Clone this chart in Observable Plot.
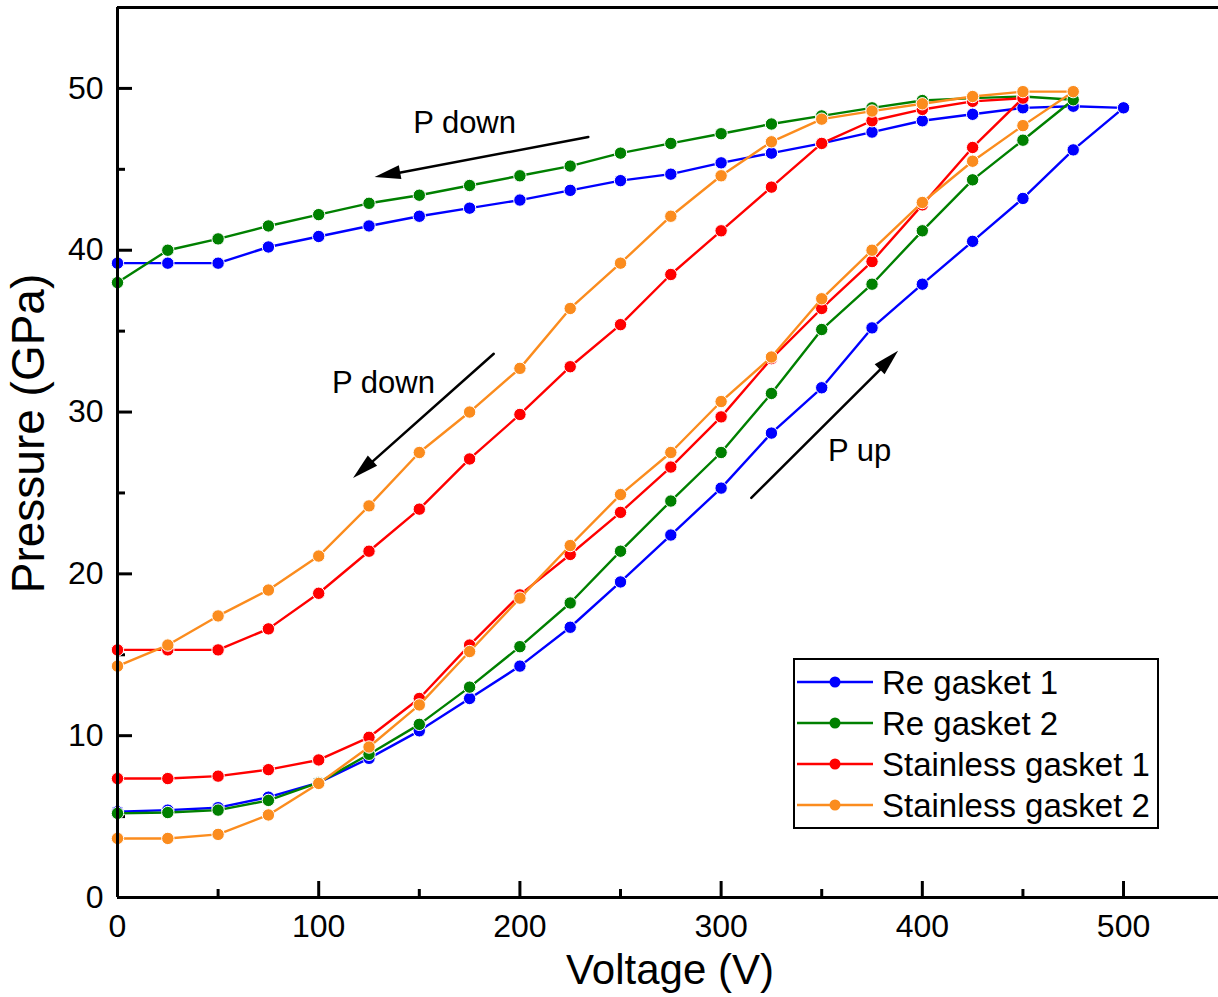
<!DOCTYPE html>
<html><head><meta charset="utf-8">
<script src="https://cdn.jsdelivr.net/npm/d3@7"></script>
<script src="https://cdn.jsdelivr.net/npm/@observablehq/plot@0.6"></script>
<style>
body{margin:0;background:#fff;}
#wrap{position:relative;width:1218px;height:997px;font-family:"Liberation Sans",Arial,sans-serif;}
#legend{position:absolute;left:793px;top:658px;width:362px;height:167px;border:2.5px solid #000;background:#fff;}
</style></head><body><div id="wrap"></div>
<script>
// ---- data ----
const voltage = [0,25,50,75,100,125,150,175,200,225,250,275,300,325,350,375,400,425,450,475,500];

const seriesNames = ["Re gasket 1","Re gasket 2","Stainless gasket 1","Stainless gasket 2"];
const seriesColors = ["#0000ff","#008000","#ff0000","#fb8c1e"];

// pressure on the way up (voltage 0, 25, ... up to the peak)
const re1Up = [5.3,5.4,5.55,6.2,7.1,8.6,10.3,12.3,14.3,16.7,19.5,22.4,25.3,28.7,31.5,35.2,37.9,40.55,43.2,46.2,48.8];
const re2Up = [5.2,5.25,5.4,6.0,7.1,8.85,10.7,13.0,15.5,18.2,21.4,24.5,27.5,31.15,35.1,37.9,41.2,44.35,46.8,49.3];
const ss1Up = [7.35,7.35,7.5,7.9,8.5,9.9,12.3,15.6,18.7,21.2,23.8,26.6,29.7,33.3,36.4,39.3,42.8,46.35,49.4];
const ss2Up = [3.65,3.65,3.9,5.1,7.05,9.3,11.9,15.2,18.5,21.75,24.9,27.5,30.65,33.4,37.0,40.0,42.95,45.5,47.7,49.8];

// pressure on the way down (voltage one step below the peak, down to 0)
const re1Down = [48.9,48.8,48.4,48.0,47.3,46.6,46.0,45.4,44.7,44.3,43.7,43.1,42.6,42.1,41.5,40.85,40.2,39.2,39.2,39.2];
const re2Down = [49.5,49.4,49.25,48.8,48.3,47.8,47.2,46.6,46.0,45.2,44.6,44.0,43.4,42.9,42.2,41.5,40.7,40.0,38.0];
const ss1Down = [49.2,48.7,48.0,46.6,43.9,41.2,38.5,35.4,32.8,29.85,27.1,24.0,21.4,18.8,16.6,15.3,15.3,15.3];
const ss2Down = [49.8,49.5,49.05,48.6,48.1,46.7,44.6,42.1,39.2,36.4,32.7,30.0,27.5,24.2,21.1,19.0,17.4,15.6,14.3];

const xMajor = [0,100,200,300,400,500];
const xMinor = [50,150,250,350,450];
const yMajor = [0,10,20,30,40,50];
const yMinor = [5,15,25,35,45];

// annotations (data units)
const arrowFromV = [234, 187, 315];
const arrowFromP = [47.0, 33.6, 24.7];
const arrowToV = [128, 117.3, 388.2];
const arrowToP = [44.5, 25.9, 33.75];
const noteText = ["P down","P down","P up"];
const noteV = [172.5, 132.2, 368.8];
const noteP = [47.87, 31.77, 27.56];

// ---- build rows ----
const ups = [re1Up, re2Up, ss1Up, ss2Up];
const downs = [re1Down, re2Down, ss1Down, ss2Down];
const rows = [];
seriesNames.forEach((name, s) => {
  const up = ups[s], down = downs[s];
  up.forEach((p, i) => rows.push({series: name, V: voltage[i], P: p}));
  down.forEach((p, j) => rows.push({series: name, V: voltage[up.length - 2 - j], P: p}));
});
const arrows = arrowFromV.map((v, i) => ({x1: v, y1: arrowFromP[i], x2: arrowToV[i], y2: arrowToP[i]}));
const notes = noteText.map((t, i) => ({t, V: noteV[i], P: noteP[i]}));

const W = 1218, H = 997, mL = 117, mR = 0, mT = 7, mB = 100;
const plotW = W - mL - mR, plotH = H - mT - mB;

const arrowHeads = (index, scales) => {
  const ns = "http://www.w3.org/2000/svg";
  const g = document.createElementNS(ns, "g");
  arrows.forEach(a => {
    const x1 = scales.x(a.x1), y1 = scales.y(a.y1), x2 = scales.x(a.x2), y2 = scales.y(a.y2);
    const ang = Math.atan2(y2 - y1, x2 - x1), L = 26, w = 7;
    const bx = x2 - L * Math.cos(ang), by = y2 - L * Math.sin(ang);
    const p = document.createElementNS(ns, "path");
    p.setAttribute("d", `M${x2},${y2}L${bx - w * Math.sin(ang)},${by + w * Math.cos(ang)}L${bx + w * Math.sin(ang)},${by - w * Math.cos(ang)}Z`);
    p.setAttribute("fill", "#000");
    g.appendChild(p);
  });
  return g;
};

const marks = [
  Plot.tickY(yMajor, {y: d => d, insetRight: plotW - 15, stroke: "#000", strokeWidth: 3}),
  Plot.tickY(yMinor, {y: d => d, insetRight: plotW - 8, stroke: "#000", strokeWidth: 3}),
  Plot.tickX(xMajor, {x: d => d, insetTop: plotH - 16, stroke: "#000", strokeWidth: 3}),
  Plot.tickX(xMinor, {x: d => d, insetTop: plotH - 8, stroke: "#000", strokeWidth: 3}),
  Plot.axisX({ticks: xMajor, tickSize: 0, tickPadding: 17, fontSize: 32, label: null, tickFormat: d => String(d)}),
  Plot.axisY({ticks: yMajor, tickSize: 0, tickPadding: 14, fontSize: 32, label: null, tickFormat: d => String(d)}),
  Plot.text(["Voltage (V)"], {frameAnchor: "bottom", dy: 73, dx: 2, fontSize: 42, lineAnchor: "middle", textAnchor: "middle", text: d => d, fill: "#000"}),
  Plot.text(["Pressure (GPa)"], {frameAnchor: "left", dx: -88, dy: -19, rotate: -90, fontSize: 46, lineAnchor: "middle", textAnchor: "middle", text: d => d, fill: "#000"})
];
seriesNames.forEach((name, s) => {
  const d = rows.filter(r => r.series === name);
  marks.push(Plot.line(d, {x: "V", y: "P", stroke: seriesColors[s], strokeWidth: 2.4}));
  marks.push(Plot.dot(d, {x: "V", y: "P", r: 6.2, fill: seriesColors[s], stroke: "#fff", strokeWidth: 1}));
});
marks.push(
  Plot.arrow(arrows, {x1: "x1", y1: "y1", x2: "x2", y2: "y2", headLength: 0, insetEnd: 14, stroke: "#000", strokeWidth: 2.5}),
  arrowHeads,
  Plot.text(notes, {x: "V", y: "P", text: "t", fontSize: 31, lineAnchor: "middle", fill: "#000"}),
  Plot.ruleY([0], {stroke: "#000", strokeWidth: 3}),
  Plot.ruleY([55], {stroke: "#000", strokeWidth: 3}),
  Plot.ruleX([0], {stroke: "#000", strokeWidth: 3})
);

const chart = Plot.plot({
  width: W, height: H,
  marginLeft: mL, marginRight: mR, marginTop: mT, marginBottom: mB,
  x: {domain: [0, 547.2]},
  y: {domain: [0, 55]},
  style: {fontFamily: '"Liberation Sans", Arial, sans-serif', background: "#fff", color: "#000", overflow: "visible"},
  marks
});
const wrap = document.getElementById("wrap");
wrap.appendChild(chart);

// legend
const leg = document.createElement("div");
leg.id = "legend";
const ns = "http://www.w3.org/2000/svg";
const lsvg = document.createElementNS(ns, "svg");
lsvg.setAttribute("width", 362); lsvg.setAttribute("height", 167);
const rowY = [22, 63, 104, 145];
seriesNames.forEach((name, i) => {
  const ln = document.createElementNS(ns, "line");
  ln.setAttribute("x1", 2); ln.setAttribute("x2", 78); ln.setAttribute("y1", rowY[i]); ln.setAttribute("y2", rowY[i]);
  ln.setAttribute("stroke", seriesColors[i]); ln.setAttribute("stroke-width", 2.4);
  lsvg.appendChild(ln);
  const c = document.createElementNS(ns, "circle");
  c.setAttribute("cx", 40); c.setAttribute("cy", rowY[i]); c.setAttribute("r", 5.5);
  c.setAttribute("fill", seriesColors[i]);
  lsvg.appendChild(c);
  const t = document.createElementNS(ns, "text");
  t.setAttribute("x", 87); t.setAttribute("y", rowY[i]); t.setAttribute("dy", "0.35em");
  t.setAttribute("font-size", 33); t.setAttribute("font-family", '"Liberation Sans", Arial, sans-serif');
  t.textContent = name;
  lsvg.appendChild(t);
});
leg.appendChild(lsvg);
wrap.appendChild(leg);
</script></body></html>
